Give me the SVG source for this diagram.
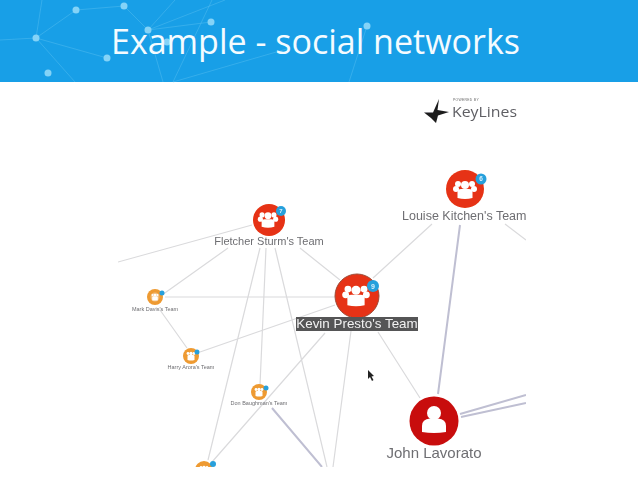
<svg xmlns="http://www.w3.org/2000/svg" width="638" height="479" viewBox="0 0 638 479">
<style>
.hl{stroke:#5cc0f2;stroke-width:.8;opacity:.55;fill:none}
.hd{fill:#84d3f7}
.e{stroke:#dadadc;stroke-width:1.2;fill:none}
.t{stroke:#bfbfd2;stroke-width:2;fill:none}
.lab{font-family:"Liberation Sans",Arial,sans-serif;fill:#6e6e72;text-anchor:middle}
.badge{fill:#27a0dc}
.bt{font-family:"Liberation Sans",Arial,sans-serif;fill:#d8eefa;text-anchor:middle;font-weight:bold}
</style>
<defs>
<clipPath id="area"><rect x="118" y="88" width="408" height="379"/></clipPath>
<filter id="soft" x="0" y="0" width="100%" height="100%"><feGaussianBlur stdDeviation=".35"/></filter>
<g id="team" fill="#fff">
<circle cx="0" cy="-5" r="4"/><circle cx="-7" cy="-6" r="3"/><circle cx="7" cy="-6" r="3"/>
<circle cx="-9" cy="-1" r="3"/><circle cx="9" cy="-1" r="3"/>
<path d="M-7.500 8V2Q-7.500-1-4-1H4Q7.500-1 7.500 2V8Q0 10-7.500 8Z"/>
</g>
<g id="small" fill="#fff">
<circle cx="-3" cy="-2.500" r="1.400"/><circle cx="3" cy="-2.500" r="1.400"/><circle cx="0" cy="-2.500" r="1.700"/>
<path d="M-3.500 4V0Q-3.500-1-2-1H2Q3.500-1 3.500 0V4Q0 5-3.500 4Z"/>
</g>
</defs>
<rect width="638" height="479" fill="#fff"/>
<g id="header">
<rect width="638" height="82" fill="#189fe7"/>
<path class="hl" d="M36 38L76 10L124 6L148 30M36 38L107 58M36 38L0 40M36 38L42 0M36 38L75 82M148 30L211 22M148 30L175 0M148 30L163 82M148 30L225 0M212 0L173 82M367 26L349 82M173 82L290 48"/>
<circle class="hd" cx="36" cy="38" r="3.500"/><circle class="hd" cx="76" cy="10" r="3.500"/><circle class="hd" cx="124" cy="6" r="3.500"/><circle class="hd" cx="148" cy="30" r="3.500"/><circle class="hd" cx="211" cy="22" r="3.500"/><circle class="hd" cx="167" cy="42" r="3.500"/><circle class="hd" cx="107" cy="58" r="3.500"/><circle class="hd" cx="48" cy="73" r="3.500"/><circle class="hd" cx="367" cy="26" r="3.500"/>
<text x="111" y="54" font-family="'Open Sans','Noto Sans',sans-serif" font-size="34" fill="#f4fbff" textLength="409" lengthAdjust="spacingAndGlyphs">Example - social networks</text>
</g>
<g id="graph" filter="url(#soft)">
<g id="connectors" clip-path="url(#area)">
<path class="e" d="M252 225L118 262M228 248L162 295M165 297H335M160 310L187 348M200 352L335 305M266 248L260 385M260 248L208 460M275 248L327 467M300 248L340 280M325 333L212 462M351 331L333 467M378 332L420 398M373 278L432 224M505 224L526 240"/>
<path class="t" d="M460 225L438 394M460 414L526 395M461 417L526 403M272 408L322 467"/>
</g>
<g id="keylines-logo">
<path d="M439 99L437.500 110L449 112L438 115.500L436 123L431 118L424 112.500L433 112.500Z" fill="#1c1c1e"/>
<text x="453" y="101" font-family="'Liberation Sans',sans-serif" font-size="3.400" fill="#666" letter-spacing=".3">POWERED BY</text>
<text x="452" y="117" font-family="'Open Sans',sans-serif" font-size="14" fill="#5f5f64" textLength="65" lengthAdjust="spacingAndGlyphs">KeyLines</text>
</g>
<g id="node-fletcher">
<circle cx="269" cy="220" r="16" fill="#e63312"/><use href="#team" transform="translate(268 220) scale(.85)"/>
<circle class="badge" cx="281" cy="211" r="5"/><text class="bt" x="281" y="213" font-size="6">7</text>
<text class="lab" x="269" y="245" font-size="11">Fletcher Sturm's Team</text>
</g>
<g id="node-louise">
<circle cx="465" cy="189" r="19" fill="#e63312"/><use href="#team" transform="translate(465 190)"/>
<circle class="badge" cx="481" cy="179" r="5.500"/><text class="bt" x="481" y="181" font-size="6.500">6</text>
<g clip-path="url(#area)"><text class="lab" x="402" y="220" font-size="12.500" style="text-anchor:start">Louise Kitchen's Team</text></g>
</g>
<g id="node-kevin">
<circle cx="357" cy="296" r="22" fill="#e63312" stroke="#9c4a38" stroke-width="1"/><use href="#team" transform="translate(356 296) scale(1.150)"/>
<circle class="badge" cx="373" cy="286" r="6"/><text class="bt" x="373" y="289" font-size="7">9</text>
<rect x="296" y="317" width="122" height="14" fill="#545456"/>
<text x="357" y="328" font-family="'Liberation Sans',sans-serif" font-size="13.400" fill="#f2f2f2" text-anchor="middle">Kevin Presto's Team</text>
</g>
<g id="node-john">
<circle cx="434" cy="421" r="24.500" fill="#c80f0f"/>
<circle cx="434" cy="413" r="7" fill="#fff"/>
<path d="M422 432V426Q422 419 430 418.500H438Q446 419 446 426V432Q434 434 422 432Z" fill="#fff"/>
<text class="lab" x="434" y="458" font-size="15">John Lavorato</text>
</g>
<g id="node-mark">
<circle cx="155" cy="297" r="8" fill="#ee9a30"/><circle cx="155" cy="297" r="4.500" fill="#f2bd7c"/><use href="#small" transform="translate(155 297) scale(.8)"/>
<circle class="badge" cx="162" cy="293" r="2.500"/>
<text class="lab" x="155" y="311" font-size="5.500">Mark Davis's Team</text>
</g>
<g id="node-harry">
<circle cx="191" cy="356" r="8" fill="#ee9a30"/><use href="#small" transform="translate(191 356)"/>
<circle class="badge" cx="197" cy="352" r="2.500"/>
<text class="lab" x="191" y="369" font-size="5.500">Harry Arora's Team</text>
</g>
<g id="node-don">
<circle cx="259" cy="392" r="8" fill="#ee9a30"/><use href="#small" transform="translate(259 392)"/>
<circle class="badge" cx="266" cy="388" r="2.500"/>
<text class="lab" x="259" y="405" font-size="5.500">Don Baughman's Team</text>
</g>
<g id="node-bottom">
<g clip-path="url(#area)"><circle cx="204" cy="470" r="9" fill="#ee9a30"/><use href="#small" transform="translate(204 470)"/></g>
<circle class="badge" cx="213" cy="464" r="3"/>
</g>
<path id="cursor" d="M368 370V379L370 377L372 381L373.500 380L371.500 376.500L374 376Z" fill="#222"/>
</g>
</svg>
